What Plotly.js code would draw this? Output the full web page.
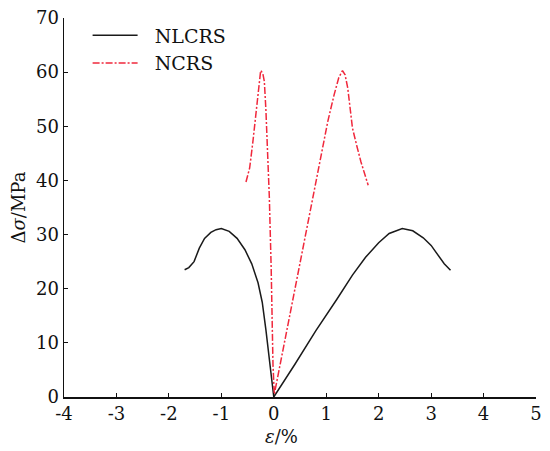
<!DOCTYPE html>
<html>
<head>
<meta charset="utf-8">
<script src="https://cdn.plot.ly/plotly-3.0.1.min.js"></script>
<style>html,body{margin:0;padding:0;background:#fff;}#chart{width:550px;height:451px;}</style>
</head>
<body>
<div id="chart"></div>
<script>
// NLCRS (black solid)
var nlcrsX = [-1.70, -1.62, -1.52, -1.42, -1.32, -1.20, -1.10, -1.00, -0.85, -0.70, -0.55, -0.42, -0.30, -0.22, -0.15, -0.08, -0.03, 0,
              0.40, 0.80, 1.20, 1.50, 1.75, 2.00, 2.20, 2.45, 2.65, 2.85, 3.00, 3.15, 3.25, 3.37];
var nlcrsY = [23.5, 23.9, 25.0, 27.5, 29.3, 30.4, 30.9, 31.1, 30.6, 29.3, 27.2, 24.6, 21.1, 17.5, 12.4, 6.5, 2.5, 0,
              6.0, 12.2, 18.0, 22.5, 25.8, 28.5, 30.2, 31.1, 30.7, 29.4, 28.0, 26.0, 24.6, 23.4];
// NCRS (red dash-dot)
var ncrsX = [-0.53, -0.46, -0.40, -0.34, -0.29, -0.25, -0.21, -0.18, -0.15, -0.13, -0.085, -0.05, -0.015, 0.01,
             0.30, 0.55, 0.77, 0.90, 1.03, 1.15, 1.24, 1.31, 1.36, 1.41, 1.45, 1.50, 1.58, 1.66, 1.80];
var ncrsY = [39.7, 42.3, 47.0, 52.1, 57.5, 60.3, 59.8, 58.3, 53.0, 47.8, 37.0, 24.0, 6.0, 0.5,
             15.0, 27.3, 38.0, 44.5, 50.9, 55.8, 59.0, 60.3, 59.5, 57.1, 53.5, 49.7, 46.5, 43.5, 39.1];

var xTicks = [-4, -3, -2, -1, 0, 1, 2, 3, 4, 5];
var yTicks = [0, 10, 20, 30, 40, 50, 60, 70];
var seriesNames = ['NLCRS', 'NCRS'];

var serif = 'DejaVu Serif';
var pad = '\u00a0\u00a0';

var traces = [
  {x: nlcrsX, y: nlcrsY, name: pad + seriesNames[0], mode: 'lines', type: 'scatter',
   line: {color: '#1a1a1a', width: 1.5}},
  {x: ncrsX, y: ncrsY, name: pad + seriesNames[1], mode: 'lines', type: 'scatter',
   line: {color: '#f0283c', width: 1.5, dash: '7px,2px,2px,2px'}}
];

var layout = {
  width: 550, height: 451,
  margin: {l: 63.5, r: 14.3, t: 18, b: 53.7},
  paper_bgcolor: '#fff', plot_bgcolor: '#fff',
  font: {family: serif, size: 18, color: '#111'},
  showlegend: true,
  legend: {x: 0.05, y: 1.004, xanchor: 'left', yanchor: 'top', bgcolor: 'rgba(255,255,255,0)',
           font: {family: serif, size: 19, color: '#111'}, itemwidth: 45, tracegroupgap: 0},
  xaxis: {range: [-4, 5], tickvals: xTicks, ticktext: xTicks.map(String), ticks: 'inside', ticklen: 4,
          tickcolor: '#111', showline: true, linecolor: '#111', linewidth: 1.5, showgrid: false,
          zeroline: false, mirror: false, tickfont: {family: serif, size: 18, color: '#111'}, fixedrange: true},
  yaxis: {range: [0, 70], tickvals: yTicks, ticktext: yTicks.map(String), ticks: 'inside', ticklen: 4,
          tickcolor: '#111', showline: true, linecolor: '#111', linewidth: 1.5, showgrid: false,
          zeroline: false, mirror: false, tickfont: {family: serif, size: 18, color: '#111'},
          title: {text: 'Δ<i>σ</i>/MPa', font: {family: serif, size: 18, color: '#111'}, standoff: 5}, fixedrange: true},
  annotations: [
    {text: '<i>ε</i>/%', xref: 'paper', yref: 'paper', x: (281 - 63.5) / 472.2, y: -(437 - 397.3) / 379.3,
     xanchor: 'center', yanchor: 'middle', showarrow: false, font: {family: serif, size: 18, color: '#111'}}
  ]
};

Plotly.newPlot('chart', traces, layout, {displayModeBar: false, staticPlot: true});
</script>
</body>
</html>
